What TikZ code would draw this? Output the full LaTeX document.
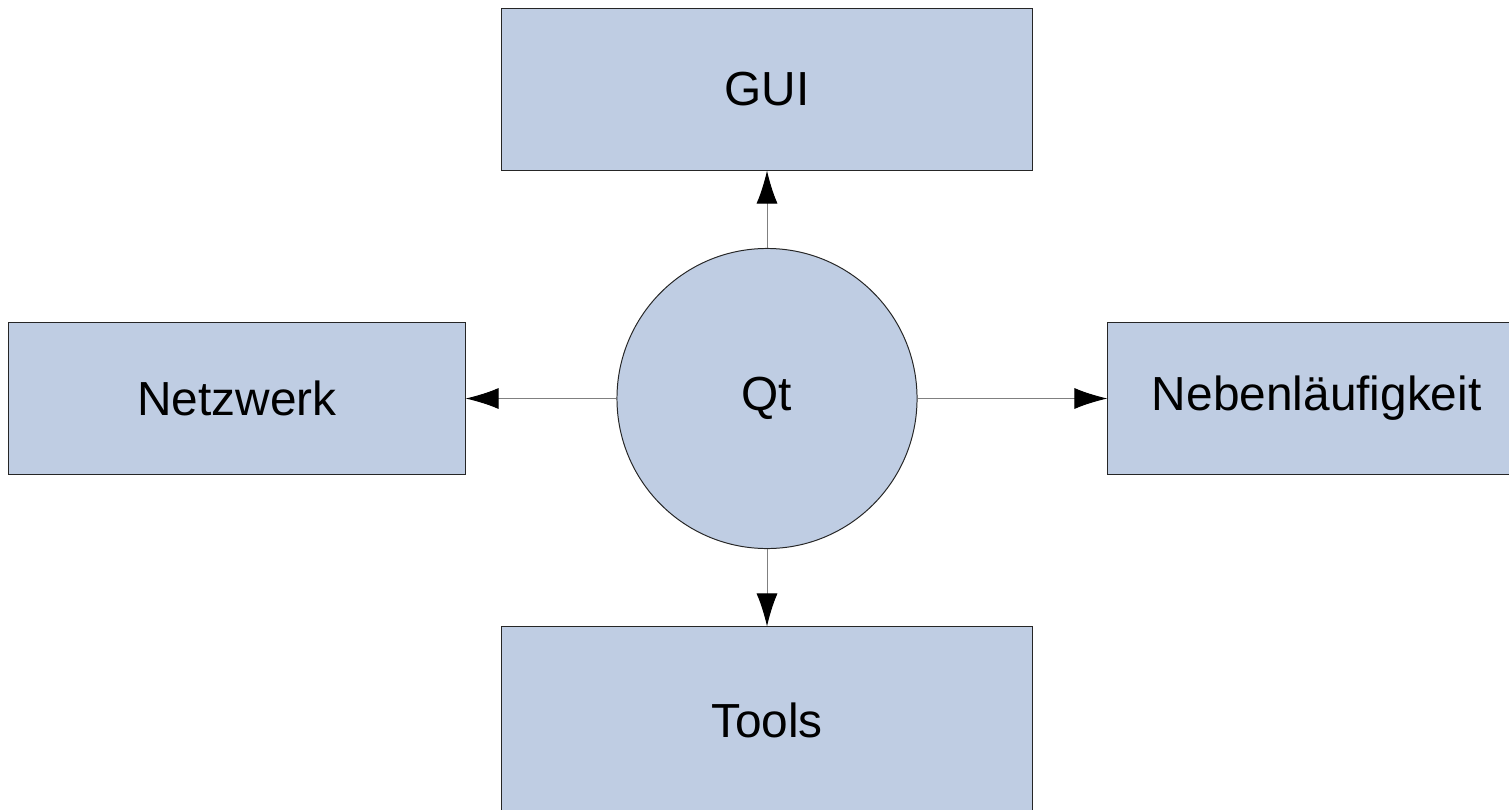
\documentclass[tikz,border=0pt]{standalone}
\usepackage{fontspec}
\setmainfont{Liberation Sans}
\usetikzlibrary{arrows.meta}

\definecolor{boxblue}{RGB}{191,205,227}
\definecolor{linegray}{RGB}{128,128,128}

\tikzset{
    block/.style={draw=black!85, line width=0.7pt, fill=boxblue, inner sep=0pt,
        font=\fontsize{34}{40}\selectfont},
    link/.style={draw=linegray, line width=0.7pt,
        -{Latex[length=0.825cm, width=0.525cm, color=black]}}
}

\begin{document}
\begin{tikzpicture}[x=0.025cm, y=-0.025cm]
        \useasboundingbox (0, 0) rectangle (1509, 809);
        \node[block, circle, minimum size=7.5cm] (qt) at (767, 398.5) {Qt};
        \node[block, minimum width=13.25cm, minimum height=4.025cm] (gui) at (767, 89.5) {GUI};
        \node[block, minimum width=11.4cm, minimum height=3.775cm] (netz) at (237, 398.5) {Netzwerk};
        % box runs past the right edge, text stays where it was
        \node[block, minimum width=12.3cm, minimum height=3.775cm,
            text width=10.1cm, align=left] (neben) at (1354, 398.5) {Nebenläufigkeit};
        \node[block, minimum width=13.25cm, minimum height=4.65cm] (tools) at (767, 720) {Tools};
        \draw[link] (qt) -- (gui);
        \draw[link] (qt) -- (netz);
        \draw[link] (qt) -- (neben);
        \draw[link] (qt) -- (tools);
    \end{tikzpicture}
\end{document}
